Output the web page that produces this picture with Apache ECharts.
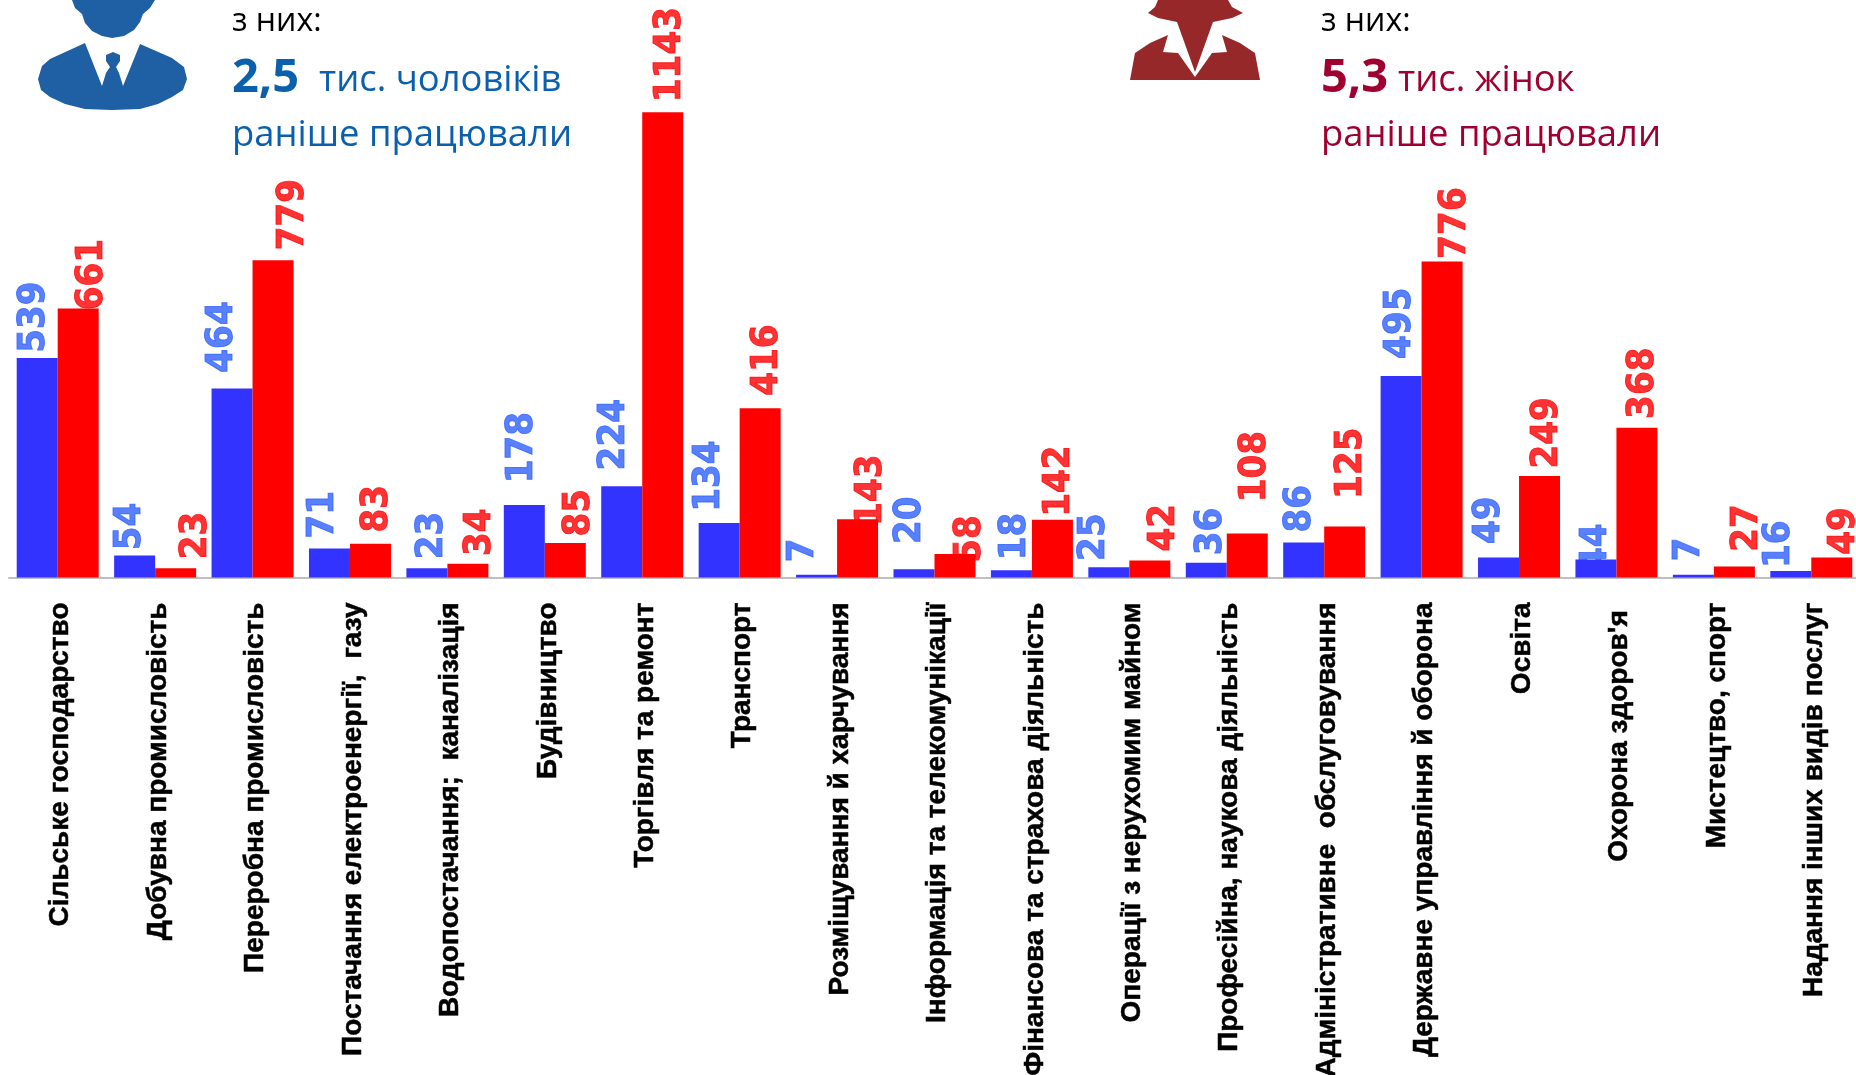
<!DOCTYPE html>
<html><head><meta charset="utf-8">
<style>html,body{margin:0;padding:0;background:#fff}#c{width:1856px;height:1075px}</style>
<script src="https://cdn.jsdelivr.net/npm/echarts@6/dist/echarts.min.js"></script>
</head><body><div id="c"></div>
<script>
const categories = ["Сільське господарство","Добувна промисловість","Переробна промисловість","Постачання електроенергії,  газу","Водопостачання;  каналізація","Будівництво","Торгівля та ремонт","Транспорт","Розміщування й харчування","Інформація та телекомунікації","Фінансова та страхова діяльність","Операції з нерухомим майном","Професійна, наукова діяльність","Адміністративне  обслуговування","Державне управління й оборона","Освіта","Охорона здоров'я\u00a0","Мистецтво, спорт","Надання інших видів послуг"];
const menValues = [539,54,464,71,23,178,224,134,7,20,18,25,36,86,495,49,44,7,16];
const womenValues = [661,23,779,83,34,85,1143,416,143,58,142,42,108,125,776,249,368,27,49];
// hand-placed label nudges of the original: [sideways from category centre, gap above bar top]
const menLabelDx = [-20,-21,-26,-23,-13,-19,-23.5,-26,-29,-21,-14,-30,-13,-20,-18,-25,-17,-21,-27];
const menLabelGap = [4,4,13,8,7,18,13,9,10,21,8,5,6,8,14,11,-10,11,2];
const womenLabelDx = [29,35,34,23,28,29,23.5,23,29,30,23,29,24,23,28,24,22.5,28,28];
const womenLabelGap = [-2,7,8,9,6,5,8,10,-6,-8,2,7,26,23,2,6,7,12,2];
const SCALE = 1.184;
const MEN_BAR = '#3333ff', WOMEN_BAR = '#ff0000', MEN_LABEL = '#2e60ff', WOMEN_LABEL = '#ff0000';
const BLUE = '#0a60ad', RED = '#a00030';
const labelFont = {fontFamily:'"DejaVu Sans Condensed","DejaVu Sans",sans-serif',fontWeight:'bold',fontSize:38};
const axisFont = {fontFamily:'"Liberation Sans Narrow","Liberation Sans",sans-serif',fontWeight:'bold',fontSize:28,color:'#000',textBorderColor:'#000',textBorderWidth:0.5};
// icon outlines
const manHead = [[72,0],[75,8],[82,14],[85,23],[92,31],[102,36],[112,38],[124,36],[134,30],[140,22],[143,14],[150,8],[155,0]];
const manBody = [[85,43],[50,59],[42,66],[38,79],[41,90],[50,97],[65,104],[85,109],[112,110],[140,109],[158,104],[172,97],[183,90],[187,79],[184,67],[172,58],[140,44],[123,86],[119,73],[116,67],[120,61],[120,55],[113,52],[106,55],[106,61],[110,67],[106,73],[102,86]];
const womanHair = [[1158,0],[1155,7],[1148,13],[1158,18],[1177,22],[1195,72],[1213,22],[1232,18],[1243,13],[1232,7],[1228,0]];
const womanBody = [[1130,80],[1135,53],[1150,43],[1168,35],[1163,52],[1178,53],[1195,77],[1212,53],[1227,52],[1222,35],[1240,43],[1255,53],[1260,80]];

function labelled(values, dx, gap){
  return values.map((v,i)=>({value:v,label:{offset:[gap[i]*SCALE,dx[i]*SCALE]}}));
}
function labelSeries(values, dx, gap, color){
  return {type:'scatter',z:1,symbolSize:1,itemStyle:{color:'transparent'},silent:true,clip:false,
    data:labelled(values,dx,gap),
    label:{show:true,position:'top',distance:0,rotate:90,align:'left',verticalAlign:'middle',color,textBorderColor:color,textBorderWidth:0.9,...labelFont}};
}
function txt(text,x,y,size,fill,weight){
  return {type:'text',x,y,z:5,style:{text,fontSize:size,fontFamily:'"Open Sans",sans-serif',fontWeight:weight||'normal',fill,verticalAlign:'middle',align:'left'}};
}
function poly(points,fill){ return {type:'polygon',z:4,shape:{points},style:{fill}}; }
const chart = echarts.init(document.getElementById('c'),null,{renderer:'canvas'});
chart.setOption({
  animation:false,
  grid:{left:9,top:7.5,width:1851,height:570,containLabel:false,outerBoundsMode:'none'},
  xAxis:{type:'category',data:categories,
    axisLine:{show:true,lineStyle:{color:'#bfbfbf',width:2}},axisTick:{show:false},
    axisLabel:{interval:0,rotate:90,margin:25,formatter:v=>'{a|'+v+'}',rich:{a:{...axisFont,padding:[6,0,0,0]}},...axisFont}},
  yAxis:{type:'value',min:0,max:1400,show:false,splitLine:{show:false}},
  series:[
    {type:'bar',name:'чоловіки',z:3,data:menValues,barWidth:41,barGap:0,itemStyle:{color:MEN_BAR}},
    {type:'bar',name:'жінки',z:3,data:womenValues,barWidth:41,barGap:0,itemStyle:{color:WOMEN_BAR}},
    labelSeries(menValues,menLabelDx,menLabelGap,MEN_LABEL),
    labelSeries(womenValues,womenLabelDx,womenLabelGap,WOMEN_LABEL)
  ],
  graphic:[
    poly(manHead,'#1f5fa3'),poly(manBody,'#1f5fa3'),poly(womanHair,'#97282a'),poly(womanBody,'#97282a'),
    txt('з них:',232,22,32,'#000'),
    txt('2,5',232,79,47,BLUE,'bold'),
    txt('тис. чоловіків',319,81,36.4,BLUE),
    txt('раніше працювали',232,135.5,36.4,BLUE),
    txt('з них:',1321,22,32,'#000'),
    txt('5,3',1321,79,47,RED,'bold'),
    txt('тис. жінок',1398,81,36.4,RED),
    txt('раніше працювали',1321,135.5,36.4,RED)
  ]
});
</script></body></html>
